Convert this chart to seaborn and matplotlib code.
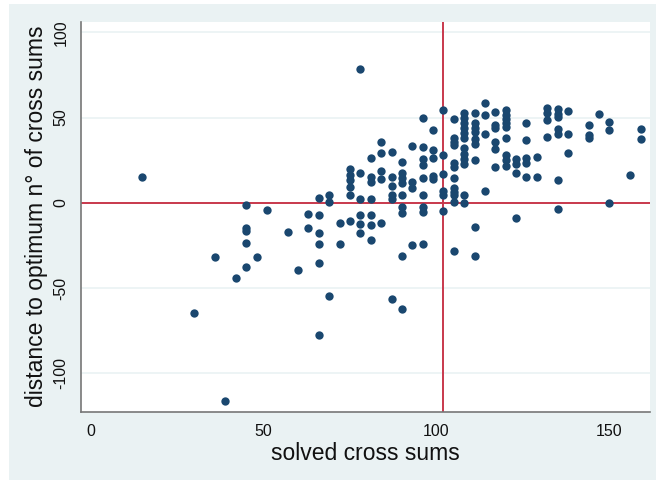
import matplotlib
matplotlib.use("Agg")
import matplotlib.pyplot as plt
import seaborn as sns
import pandas as pd
from matplotlib.patches import Rectangle

sns.set_style("white")
plt.rcParams['font.family'] = ['Liberation Sans', 'DejaVu Sans']

# solved cross sums (x) and distance to optimum (y)
x_vals = [
    15, 30, 36, 39, 42, 45, 45, 45, 45, 45, 48, 51, 57, 60,
    63, 63, 66, 66, 66, 66, 66, 66, 69, 69, 69, 72, 72,
    75, 75, 75, 75, 75, 75,
    78, 78, 78, 78, 78, 78,
    81, 81, 81, 81, 81, 81, 81,
    84, 84, 84, 84, 84,
    87, 87, 87, 87, 87, 87,
    90, 90, 90, 90, 90, 90, 90, 90, 90,
    93, 93, 93, 93,
    96, 96, 96, 96, 96, 96, 96, 96, 96,
    99, 99, 99, 99, 99,
    102, 102, 102, 102, 102, 102,
    105, 105, 105, 105, 105, 105, 105, 105, 105, 105, 105, 105,
    108, 108, 108, 108, 108, 108, 108, 108, 108, 108, 108, 108,
    111, 111, 111, 111, 111, 111, 111, 111, 111,
    114, 114, 114, 114,
    117, 117, 117, 117, 117, 117,
    120, 120, 120, 120, 120, 120, 120, 120, 120,
    123, 123, 123, 123,
    126, 126, 126, 126, 126,
    129, 129,
    132, 132, 132, 132,
    135, 135, 135, 135, 135, 135, 135,
    138, 138, 138,
    144, 144, 144,
    147,
    150, 150, 150,
    156,
    159, 159,
]
y_vals = [
    15.0, -64.5, -31.5, -116.5, -44.0, -1.0, -14.5, -16.5, -23.5, -37.5, -32.0, -4.3, -17.0, -39.6,
    -6.6, -14.5, 3.0, -7.4, -18.0, -24.0, -35.5, -77.3, 4.5, 0.5, -54.4, -12.1, -24.2,
    19.6, 16.3, 13.6, 9.0, 4.6, -10.8,
    78.5, 17.6, 2.0, -7.0, -12.4, -18.0,
    26.5, 15.0, 12.4, 2.0, -7.0, -13.0, -22.0,
    35.9, 29.3, 18.7, 14.2, -12.1,
    30.0, 15.3, 10.0, 4.5, 2.3, -56.2,
    24.1, 17.3, 14.3, 11.4, 4.5, -2.4, -5.8, -31.2, -62.4,
    33.5, 12.2, 8.5, -24.9,
    49.6, 32.6, 25.4, 22.4, 14.7, 4.6, -2.4, -5.4, -23.9,
    42.6, 31.0, 26.3, 15.8, 14.0,
    54.7, 27.8, 17.1, 7.0, 4.6, -4.8,
    49.1, 37.9, 35.9, 34.0, 23.6, 20.9, 14.3, 8.5, 6.5, 4.8, 0.6, -28.4,
    52.6, 49.6, 46.7, 43.8, 40.8, 37.9, 32.0, 28.8, 25.6, 22.9, 4.5, -0.4,
    52.6, 46.7, 43.8, 41.5, 37.4, 34.3, 24.9, -14.1, -31.2,
    58.5, 51.4, 40.6, 6.7,
    53.5, 45.7, 43.8, 35.9, 31.4, 21.2,
    54.5, 51.6, 49.0, 46.7, 44.4, 37.9, 28.0, 25.1, 21.6,
    25.5, 22.8, 17.6, -8.8,
    46.7, 36.9, 26.5, 23.5, 15.1,
    26.9, 15.1,
    55.5, 52.6, 48.6, 38.8,
    54.9, 52.2, 50.2, 43.2, 40.2, 13.4, -3.7,
    53.8, 40.2, 29.2,
    45.9, 39.8, 37.9,
    52.0,
    47.6, 42.8, 0.0,
    16.1,
    43.4, 37.3,
]
x_ref = 102.0   # vertical reference line
y_ref = 0.0     # horizontal reference line
x_ticks = [0, 50, 100, 150]
y_ticks = [-100, -50, 0, 50, 100]
x_label = "solved cross sums"
y_label = "distance to optimum n° of cross sums"

df = pd.DataFrame({"x": x_vals, "y": y_vals})

W, H = 656, 480
fig = plt.figure(figsize=(W / 100, H / 100), dpi=100, facecolor="white")
# outer graph region (Stata-like light background)
bg = Rectangle((9 / W, 0), 1 - 9 / W, 1 - 4 / H, transform=fig.transFigure,
               facecolor="#eaf2f3", edgecolor="none", zorder=-10)
fig.add_artist(bg)

left, right, top, bottom = 81, 650.3, 21.7, 411.7
ax = fig.add_axes([left / W, 1 - bottom / H, (right - left) / W, (bottom - top) / H])
ax.set_zorder(1)
ax.set_facecolor("white")

for yt in y_ticks:
    ax.axhline(yt, color="#eaf2f3", lw=1.2, zorder=0)

sns.scatterplot(data=df, x="x", y="y", ax=ax, color="#1a476f", s=36, linewidth=0, zorder=3)
ax.axvline(x_ref, color="#c8384c", lw=1.4, zorder=2)
ax.axhline(y_ref, color="#c8384c", lw=1.4, zorder=2)

ax.set_xlim(-2.75, 161.8)
ax.set_ylim(-122.5, 106.2)
ax.set_xticks(x_ticks)
ax.set_yticks(y_ticks)
ax.set_xticklabels([str(t) for t in x_ticks], fontsize=11.5, color="#111111")
ax.set_yticklabels([str(t) for t in y_ticks], fontsize=11.5, color="#111111",
                   rotation=90, va="center")
ax.tick_params(axis="both", direction="out", length=5, width=1, color="#777777", pad=4)
ax.set_xlabel(x_label, fontsize=16.5, color="#111111", labelpad=2)
ax.set_ylabel(y_label, fontsize=16.5, color="#111111", labelpad=4)

for side in ["top", "right"]:
    ax.spines[side].set_visible(False)
for side in ["left", "bottom"]:
    ax.spines[side].set_color("#777777")
    ax.spines[side].set_linewidth(1.2)

fig.savefig("out.png", dpi=100, facecolor=fig.get_facecolor())
